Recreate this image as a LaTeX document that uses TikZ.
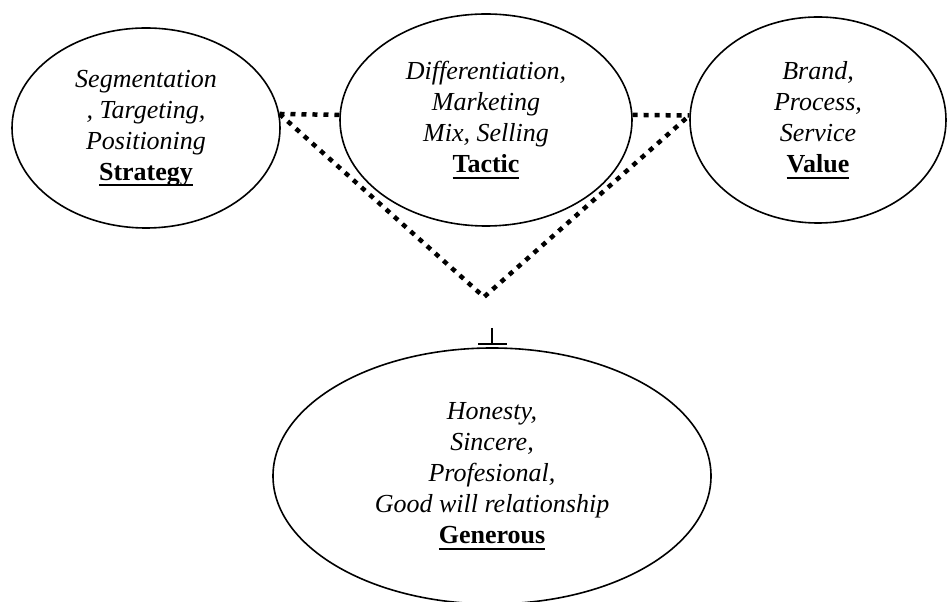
\documentclass[tikz,border=0pt]{standalone}
\usepackage{fontspec}
\setmainfont{Liberation Serif}
\usetikzlibrary{shapes.geometric, arrows.meta}

\newcommand{\headword}[1]{\textup{\textbf{\setbox0\hbox{#1}\rlap{\rule[-6pt]{\wd0}{2pt}}\box0}}}

\begin{document}
\begin{tikzpicture}[x = 1pt, y = 1pt,
    oval/.style = {ellipse, draw = black, line width = 1.6pt, inner sep = 0pt, align = center, font = \fontsize{26}{31}\selectfont\itshape},
    link/.style = {line width = 4.5pt, dash pattern = on 5pt off 6pt}]
    \useasboundingbox (0, 0) rectangle (948, 602);
    \node [oval, minimum width = 268pt, minimum height = 200pt] (strategy) at (146, 474) {Segmentation\\, Targeting,\\Positioning\\\headword{Strategy}};
    \node [oval, minimum width = 292pt, minimum height = 212pt] (tactic) at (486, 482) {Differentiation,\\Marketing\\Mix, Selling\\\headword{Tactic}};
    \node [oval, minimum width = 256pt, minimum height = 206pt] (value) at (818, 482) {Brand,\\Process,\\Service\\\headword{Value}};
    \node [oval, minimum width = 438pt, minimum height = 256pt] (generous) at (492, 126) {Honesty,\\Sincere,\\Profesional,\\Good will relationship\\\headword{Generous}};
    \coordinate (apex) at (484, 305);
    \coordinate (stub) at (492, 274);
    \draw [link] (strategy.6) -- (tactic.178);
    \draw [link] (tactic.2) -- (value.178);
    \draw [link] (strategy.6) -- (apex) -- (value.178);
    \draw [line width = 2.5pt, -{Bar[width = 29pt, line width = 2.5pt]}] (stub) -- ([yshift = 2pt] generous.north);
\end{tikzpicture}
\end{document}
